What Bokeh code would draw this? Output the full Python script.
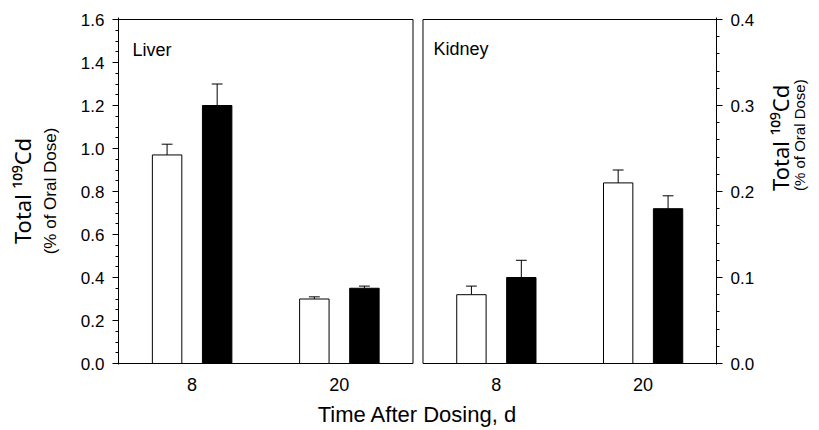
import math
import numpy as np
from bokeh.plotting import figure
from bokeh.models import (Range1d, LinearAxis, FixedTicker, SingleIntervalTicker,
                          NumeralTickFormatter, Label)
from bokeh.embed import file_html
from bokeh.resources import INLINE

# ---------------- data ----------------
days = ["8", "20"]
liver_open = [0.97, 0.30]
liver_open_err = [0.05, 0.01]
liver_filled = [1.20, 0.35]
liver_filled_err = [0.10, 0.01]
kidney_open = [0.08, 0.21]
kidney_open_err = [0.01, 0.015]
kidney_filled = [0.10, 0.18]
kidney_filled_err = [0.02, 0.015]
liver_max = 1.6
kidney_max = 0.4
title_main = "Total \u00b9\u2070\u2079Cd"
title_sub = "(% of Oral Dose)"
x_title = "Time After Dosing, d"

# ---------------- layout ----------------
W, H = 819, 430
FL, FR, FT, FB = 118, 717, 17, 364          # frame edges (canvas px)
LP = (118, 413)                              # liver panel px
RP = (423, 717)                              # kidney panel px
Y0, YT = 363, 19                             # px of 0 and of axis max
FONT = "Liberation Sans"
TFONT = "Noto Sans"

lx = (LP[1] - LP[0]) / 2.0
rx = (RP[1] - RP[0]) / 2.0
py = (Y0 - YT) / liver_max
ky = (Y0 - YT) / kidney_max

x_range = Range1d(-0.5, -0.5 + (FR - FL) / lx)
y_range = Range1d(-(FB - Y0) / py, liver_max + (YT - FT) / py)
kx_range = Range1d(-0.5 - (RP[0] - FL) / rx, 1.5 + (FR - RP[1]) / rx)
ky_range = Range1d(-(FB - Y0) / ky, kidney_max + (YT - FT) / ky)

p = figure(width=W, height=H, x_range=x_range, y_range=y_range,
           output_backend="svg", toolbar_location=None,
           min_border_left=FL, min_border_right=W - FR,
           min_border_top=FT, min_border_bottom=H - FB)
p.extra_x_ranges = {"kidney": kx_range}
p.extra_y_ranges = {"kidney": ky_range}
p.outline_line_color = None
p.xgrid.visible = False
p.ygrid.visible = False
p.background_fill_color = "white"
p.border_fill_color = "white"

# ---------------- bars ----------------
idx = np.arange(len(days))
off, bw, cw = 0.17, 0.2, 0.037

def bars(vals, errs, xoff, fill, rname=None):
    kw = {}
    if rname:
        kw = dict(x_range_name=rname, y_range_name=rname)
    xs = idx + xoff
    vals = np.array(vals)
    tops = vals + np.array(errs)
    p.segment(x0=xs, y0=vals, x1=xs, y1=tops, line_color="black", line_width=1, **kw)
    p.segment(x0=xs - cw, y0=tops, x1=xs + cw, y1=tops, line_color="black", line_width=1, **kw)
    p.vbar(x=xs, top=vals, bottom=0, width=bw, fill_color=fill,
           line_color="black", line_width=1, **kw)

bars(liver_open, liver_open_err, -off, "white")
bars(liver_filled, liver_filled_err, off, "black")
bars(kidney_open, kidney_open_err, -off, "white", "kidney")
bars(kidney_filled, kidney_filled_err, off, "black", "kidney")

# panel boxes
p.quad(left=-0.5, right=1.5, bottom=0, top=liver_max, fill_color=None,
       line_color="black", line_width=1)
p.quad(left=-0.5, right=1.5, bottom=0, top=kidney_max, fill_color=None,
       line_color="black", line_width=1, x_range_name="kidney", y_range_name="kidney")

# ---------------- axes ----------------
def style_label(ax, text, size, standoff, orient=None, font=FONT):
    ax.axis_label = text
    ax.axis_label_text_font = font
    ax.axis_label_text_font_size = size
    ax.axis_label_text_font_style = "normal"
    ax.axis_label_text_color = "black"
    ax.axis_label_standoff = standoff
    if orient is not None and "axis_label_orientation" in ax.properties():
        ax.axis_label_orientation = orient

def blank_axis(ax):
    ax.ticker = FixedTicker(ticks=[])
    ax.axis_line_color = None
    ax.major_tick_line_color = None
    ax.minor_tick_line_color = None
    ax.major_tick_out = 0
    ax.minor_tick_out = 0
    ax.major_label_text_font_size = "0px"
    ax.major_label_standoff = 0

ya = p.yaxis[0]
ya.ticker = SingleIntervalTicker(interval=0.2, num_minor_ticks=4)
ya.formatter = NumeralTickFormatter(format="0.0")

ra = LinearAxis(y_range_name="kidney")
ra.ticker = SingleIntervalTicker(interval=0.1, num_minor_ticks=5)
ra.formatter = NumeralTickFormatter(format="0.0")
p.add_layout(ra, "right")

for ax in (ya, ra):
    ax.major_tick_in = 0
    ax.major_tick_out = 6
    ax.minor_tick_in = 0
    ax.minor_tick_out = 3
    ax.axis_line_color = "black"
    ax.major_tick_line_color = "black"
    ax.minor_tick_line_color = "black"
    ax.major_label_text_font = FONT
    ax.major_label_text_font_size = "17px"
    ax.major_label_text_color = "black"
ya.major_label_standoff = 8
ra.major_label_standoff = 8

# left: sub title next to ticks, main title further out
style_label(ya, title_sub, "17px", 18)
la2 = LinearAxis()
blank_axis(la2)
style_label(la2, title_main, "22px", 1, font=TFONT)
p.add_layout(la2, "left")

# right: main title next to ticks, sub title further out (both read upward)
style_label(ra, title_main, "22px", 23, math.pi / 2, font=TFONT)
ra2 = LinearAxis(y_range_name="kidney")
blank_axis(ra2)
style_label(ra2, title_sub, "15px", -14, math.pi / 2)
p.add_layout(ra2, "right")

# bottom axis: categories of both panels, expressed on the liver x scale
kid_pos = [round(-0.5 + (RP[0] + (i + 0.5) * rx - FL) / lx, 4) for i in idx]
liv_pos = [float(i) for i in idx]
ticks = liv_pos + kid_pos
labels = days + days
xa = p.xaxis[0]
xa.ticker = FixedTicker(ticks=ticks)
ov = {}
for t, l in zip(ticks, labels):
    ov[t] = l
    ov[str(t)] = l
xa.major_label_overrides = ov
xa.axis_line_color = None
xa.major_tick_out = 0
xa.major_tick_in = 0
xa.minor_tick_line_color = None
xa.major_label_standoff = 13
xa.major_label_text_font = FONT
xa.major_label_text_font_size = "18px"
xa.major_label_text_color = "black"
style_label(xa, x_title, "22px", 8)

# ---------------- panel names ----------------
def lab(text, cx, cy, size):
    p.add_layout(Label(x=cx - FL, y=FB - cy, x_units="screen", y_units="screen",
                       text=text, text_align="left",
                       text_baseline="alphabetic", text_font=FONT,
                       text_font_size=size, text_color="black"))

lab("Liver", 132, 49, "18px")
lab("Kidney", 433, 48, "18px")

open("out.html", "w").write(file_html(p, INLINE))
